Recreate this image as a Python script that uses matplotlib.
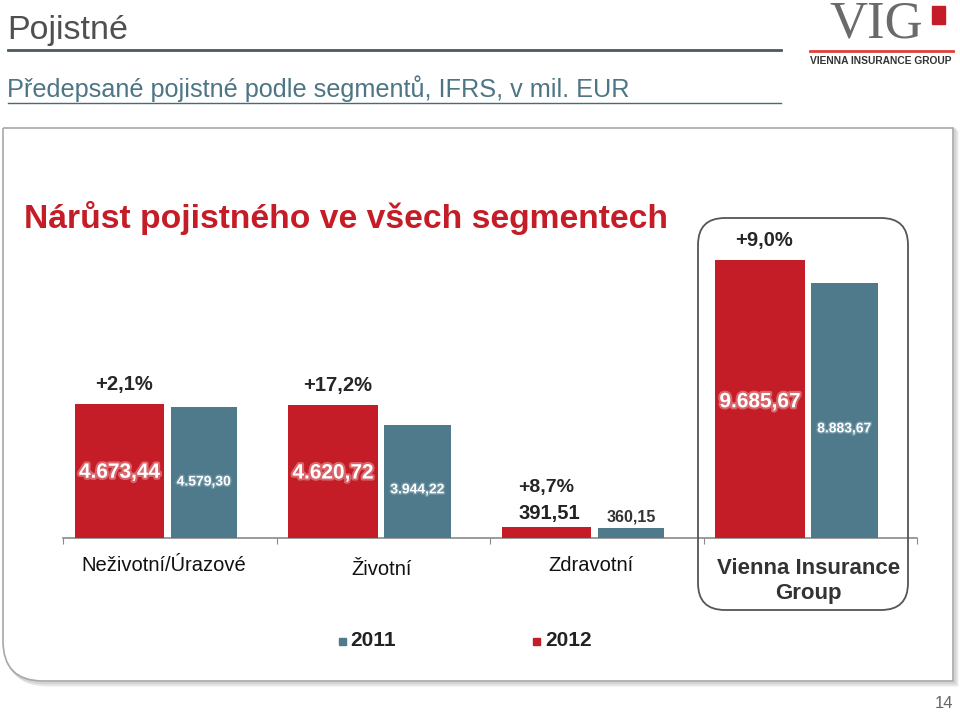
import matplotlib
matplotlib.use("Agg")
import matplotlib.pyplot as plt
import matplotlib.patheffects as pe
from matplotlib.patches import FancyBboxPatch, Rectangle
from matplotlib.path import Path
from matplotlib.patches import PathPatch
import numpy as np

plt.rcParams['font.family'] = ['Liberation Sans', 'DejaVu Sans']

categories = ["Neživotní/Úrazové", "Životní", "Zdravotní", "Vienna Insurance\nGroup"]
values_2012 = [4673.44, 4620.72, 391.51, 9685.67]
values_2011 = [4579.30, 3944.22, 360.15, 8883.67]
labels_2012 = ["4.673,44", "4.620,72", "391,51", "9.685,67"]
labels_2011 = ["4.579,30", "3.944,22", "360,15", "8.883,67"]
growth = ["+2,1%", "+17,2%", "+8,7%", "+9,0%"]
series_names = ["2011", "2012"]

RED = "#C41D27"
BLUE = "#4E7A8C"
W, H = 960, 712

fig = plt.figure(figsize=(9.6, 7.12), dpi=100)

def fx(px):
    return px / W

def fy(py):
    return 1 - py / H

# Header
fig.text(fx(7), fy(31), "Pojistné", fontsize=24.5, color="#4d4f50", va="center", ha="left")
fig.add_artist(plt.Line2D([fx(8), fx(781)], [fy(50), fy(50)], color="#4a5a60", lw=2))
fig.text(fx(7), fy(89), "Předepsané pojistné podle segmentů, IFRS, v mil. EUR",
         fontsize=18.2, color="#4c7585", va="center", ha="left")
fig.add_artist(plt.Line2D([fx(8), fx(781)], [fy(103), fy(103)], color="#4c6a75", lw=1))

# Logo
fig.text(fx(876), fy(25), "VIG", fontsize=38, color="#6a6a6a", family=["Liberation Serif", "DejaVu Serif"],
         ha="center", va="center")
fig.add_artist(Rectangle((fx(932), fy(24)), fx(13), 18 / H, color=RED, transform=fig.transFigure))
fig.add_artist(plt.Line2D([fx(810), fx(953)], [fy(51), fy(51)], color="#e0403a", lw=2))
fig.text(fx(881), fy(61), "VIENNA INSURANCE GROUP", fontsize=7.4, color="#333333",
         ha="center", va="center", fontweight="bold")

# Outer box with shadow (bottom-left rounded corner)
def box_path(x0, y0, x1, y1, r):
    verts = [(fx(x0), fy(y0)), (fx(x1), fy(y0)), (fx(x1), fy(y1)), (fx(x0 + r), fy(y1))]
    codes = [Path.MOVETO, Path.LINETO, Path.LINETO, Path.LINETO]
    verts += [(fx(x0), fy(y1)), (fx(x0), fy(y1 - r))]
    codes += [Path.CURVE3, Path.CURVE3]
    verts += [(fx(x0), fy(y0))]
    codes += [Path.LINETO]
    return Path(verts, codes)

for off, col in [(4, "#e8e8e8"), (2, "#d4d4d4")]:
    fig.add_artist(PathPatch(box_path(3 + off, 128 + off, 953 + off, 681 + off, 40),
                             transform=fig.transFigure, fc="none", ec=col, lw=2, zorder=-6))
fig.add_artist(PathPatch(box_path(3, 128, 953, 681, 40), transform=fig.transFigure,
                         fc="white", ec="#a8a8a8", lw=1.2, zorder=-5))

fig.text(fx(24), fy(218), "Nárůst pojistného ve všech segmentech", fontsize=24.2,
         color=RED, fontweight="bold", va="center", ha="left")

# Axes
x_left, x_right = 63, 917
y_base, y_top = 538, 230
ax = fig.add_axes([fx(x_left), fy(y_base), fx(x_right - x_left), (y_base - y_top) / H], zorder=2)
ymax = 9685.67 * (y_base - y_top) / (538 - 260)
ax.set_xlim(0, 4)
ax.set_ylim(0, ymax)
ax.patch.set_alpha(0)
for s in ["top", "right", "left"]:
    ax.spines[s].set_visible(False)
ax.spines["bottom"].set_color("#8a8a8a")
ax.spines["bottom"].set_linewidth(1.2)
ax.set_yticks([])
ax.set_xticks([0, 1, 2, 3, 4])
ax.set_xticklabels([])
ax.tick_params(axis="x", length=4, color="#8a8a8a", direction="out")

x = np.arange(len(categories))
red_l, red_w = 0.055, 0.42
blue_l, blue_w = 0.505, 0.31
ax.bar(x + red_l, values_2012, width=red_w, align="edge", color=RED, zorder=3)
ax.bar(x + blue_l, values_2011, width=blue_w, align="edge", color=BLUE, zorder=3)

threshold = 2000
for i in range(len(categories)):
    v12, v11 = values_2012[i], values_2011[i]
    cr = i + red_l + red_w / 2
    cb = i + blue_l + blue_w / 2
    if v12 > threshold:
        ax.text(cr, v12 * 0.49, labels_2012[i], color="white", fontsize=15, fontweight="bold",
                ha="center", va="center", zorder=5,
                path_effects=[pe.withStroke(linewidth=3, foreground="#d9646a")])
        ax.text(cb, v11 * 0.43, labels_2011[i], color="white", fontsize=10, fontweight="bold",
                ha="center", va="center", zorder=5,
                path_effects=[pe.withStroke(linewidth=2, foreground="#6f95a5")])
        ax.annotate(growth[i], (cr, v12), xytext=(3, 14), textcoords="offset points",
                    ha="center", va="center", fontsize=14.5, fontweight="bold", color="#262626")
    else:
        ax.annotate(labels_2012[i], (cr, v12), xytext=(2, 9.5), textcoords="offset points",
                    ha="center", va="center", fontsize=14.5, fontweight="bold", color="#222222")
        ax.annotate(labels_2011[i], (cb, v11), xytext=(0, 7.5), textcoords="offset points",
                    ha="center", va="center", fontsize=11.5, fontweight="bold", color="#333333")
        ax.annotate(growth[i], (cr, v12), xytext=(0, 28), textcoords="offset points",
                    ha="center", va="center", fontsize=14, fontweight="bold", color="#262626")

# Category labels
for i, c in enumerate(categories):
    if i == len(categories) - 1:
        ax.annotate(c, (i + 0.5, 0), xytext=(-1, -31), textcoords="offset points",
                    ha="center", va="center", fontsize=16, fontweight="bold", color="#333333",
                    linespacing=1.2, annotation_clip=False)
    else:
        ax.annotate(c, (i + 0.5, 0), xytext=(-4 if i != 1 else -1, -20 if i != 1 else -23),
                    textcoords="offset points",
                    ha="center", va="center", fontsize=14.5, color="#111111",
                    annotation_clip=False)

# Rounded highlight box around VIG
fig.add_artist(FancyBboxPatch((fx(698), fy(610)),
                              fx(908 - 698), (610 - 218) / H,
                              boxstyle="round,pad=0,rounding_size=0.028",
                              transform=fig.transFigure, fc="none", ec="#555555", lw=1.3,
                              mutation_aspect=W / H, zorder=3))

# Legend
fig.add_artist(Rectangle((fx(339), fy(645)), fx(7), 7 / H, color=BLUE, transform=fig.transFigure))
fig.text(fx(350), fy(641), series_names[0], fontsize=15, fontweight="bold", color="#222222",
         va="center", ha="left")
fig.add_artist(Rectangle((fx(533), fy(645)), fx(7), 7 / H, color=RED, transform=fig.transFigure))
fig.text(fx(545), fy(641), series_names[1], fontsize=15, fontweight="bold", color="#222222",
         va="center", ha="left")

fig.text(fx(953), fy(703), "14", fontsize=12, color="#666666", ha="right", va="center")

fig.savefig("out.png", dpi=100)
